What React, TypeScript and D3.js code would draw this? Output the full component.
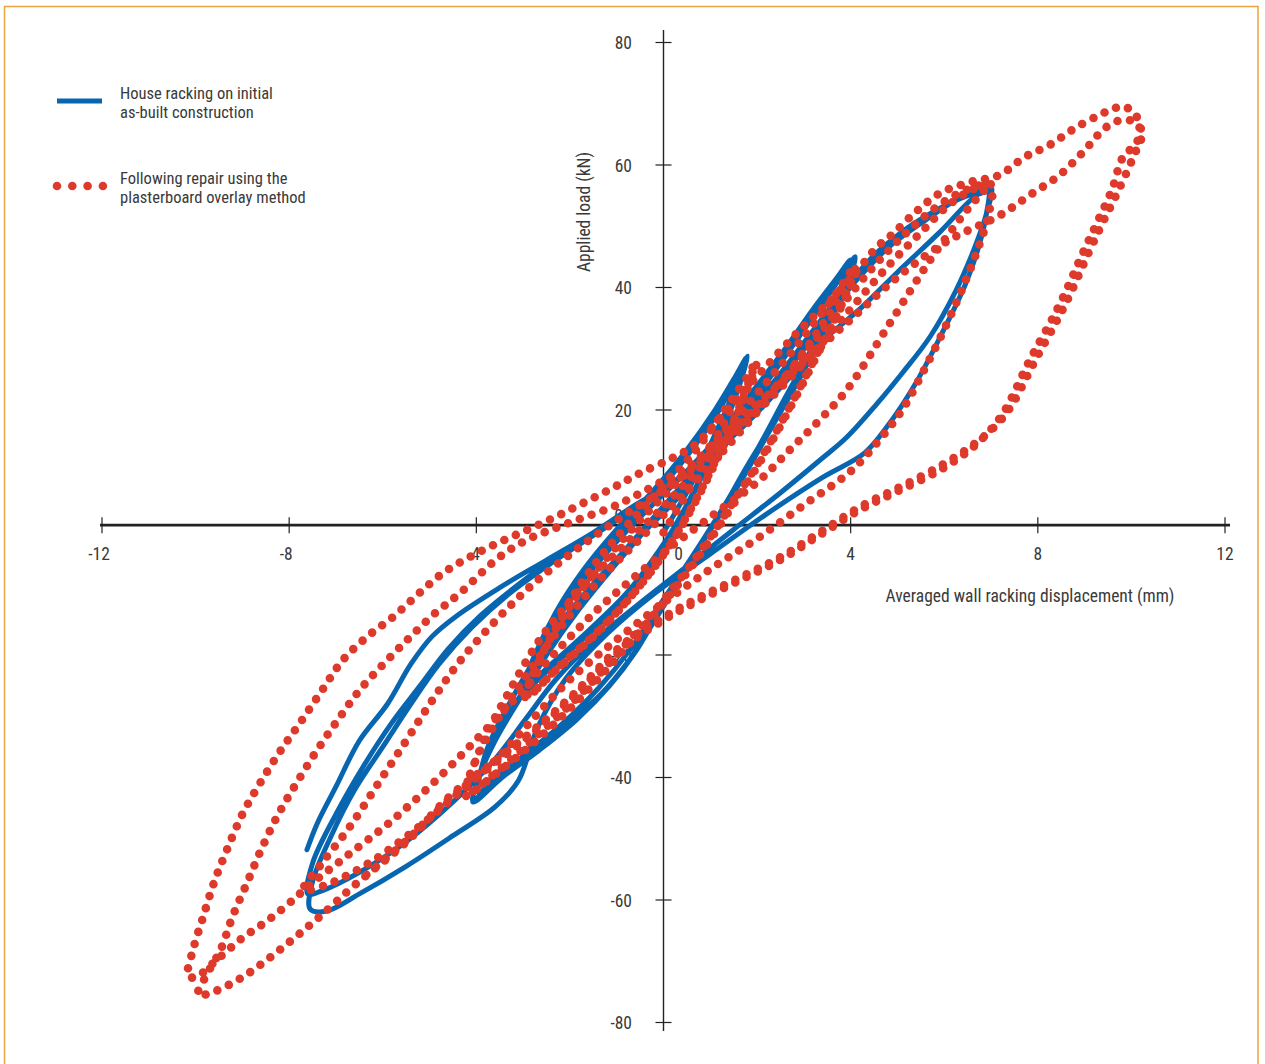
import React from "react";
import * as d3 from "d3";

// ---------- axis ticks ----------
const xTicks = [-12, -8, -4, 0, 4, 8, 12];
const yTicks = [80, 60, 40, 20, 0, -20, -40, -60, -80];

// ---------- Blue series: house racking on initial as-built construction (mm, kN) ----------
const blueSmall: [number, number][] = [
  [0, 0], [0.6, 8], [1.1, 16], [1.45, 22], [1.7, 27.5],
  [1.5, 22], [1.1, 14], [0.55, 5], [-0.1, -3], [-0.8, -10], [-1.6, -16], [-2.4, -21.5], [-3.0, -25.5],
  [-2.75, -20], [-2.3, -13], [-1.7, -6], [-1.0, 0.5], [-0.2, 7], [0.5, 13.5], [1.1, 20], [1.5, 25], [1.78, 28.6],
  [1.55, 23], [1.15, 15], [0.6, 6], [0.0, -2], [-0.7, -9.5], [-1.5, -15.5], [-2.3, -21], [-2.95, -25.8],
  [-2.7, -20.5], [-2.25, -13.5], [-1.65, -6.5], [-0.95, 0], [-0.15, 6.5], [0.55, 13], [1.15, 19.5], [1.55, 25], [1.8, 28.8],
  [1.6, 23.5], [1.2, 15.5], [0.65, 6.5], [0.05, -2], [-0.65, -9.5], [-1.45, -15.5], [-2.25, -21], [-3.0, -25.7],
];
const blueMedium: [number, number][] = [
  [-2.6, -19], [-2.0, -11], [-1.3, -4], [-0.5, 2.5], [0.3, 8.5], [1.1, 15], [1.9, 23], [2.6, 30], [3.2, 36.5], [3.7, 41.5], [4.0, 44.5],
  [3.85, 40], [3.5, 34], [3.0, 26.5], [2.4, 18.5], [1.8, 11], [1.2, 3], [0.5, -5.5], [-0.1, -13], [-0.6, -19.5], [-1.15, -25], [-1.85, -30.5], [-2.65, -35.5], [-3.45, -40], [-4.07, -44],
  [-3.95, -40], [-3.6, -34], [-3.1, -27.5], [-2.5, -20], [-1.8, -12.5], [-1.0, -5], [-0.2, 2], [0.6, 9], [1.4, 16.5], [2.2, 24.5], [2.9, 32], [3.5, 38.5], [3.95, 43.5], [4.1, 45],
  [3.9, 40], [3.45, 33], [2.9, 25], [2.3, 17], [1.7, 9], [1.05, 1], [0.4, -7], [-0.2, -14.5], [-0.75, -21], [-1.35, -26.5], [-2.1, -31.5], [-2.9, -36.5], [-3.6, -40.5], [-4.05, -43.5],
  [-3.9, -39], [-3.55, -33], [-3.05, -26.5], [-2.45, -19], [-1.75, -11.5], [-0.95, -4], [-0.15, 3], [0.65, 10], [1.45, 17.5], [2.25, 25.5], [2.95, 33], [3.55, 39.5], [3.9, 43.5],
  [3.7, 38], [3.2, 30.5], [2.6, 22], [2.0, 13.5], [1.35, 5], [0.65, -3.5], [-0.05, -11.5], [-0.7, -19], [-1.4, -25.5], [-2.2, -31.5], [-3.0, -36.5], [-3.6, -40], [-3.95, -42.5],
];
const blueLarge: [number, number][] = [
  [-3.8, -36], [-3.3, -28], [-2.6, -19], [-1.8, -11], [-0.9, -3.5], [0.1, 4], [1.0, 11.5], [1.9, 19.5], [2.8, 28], [3.6, 36], [4.3, 43], [5.0, 48.5], [5.8, 52.5], [6.5, 55], [6.93, 55.9],
  [6.9, 52], [6.75, 47], [6.45, 40.5], [5.95, 32.5], [5.4, 24.5], [4.8, 17.5], [4.3, 13], [3.4, 9], [2.2, 3], [1.0, -3.5], [-0.2, -10], [-1.2, -16.5], [-2.1, -24], [-2.7, -32], [-3.1, -40.5], [-3.6, -44.8], [-4.5, -49.5], [-5.5, -54.5], [-6.5, -59], [-7.2, -61.8], [-7.55, -61.5],
  [-7.5, -57], [-7.1, -49.5], [-6.6, -42], [-6.0, -35], [-5.4, -28], [-4.8, -21.5], [-4.1, -15.5], [-3.3, -10], [-2.4, -5], [-1.4, 0], [-0.4, 5], [0.6, 10.5], [1.5, 17], [2.4, 25], [3.2, 33], [3.9, 40], [4.6, 46], [5.4, 50.5], [6.2, 54], [6.75, 56], [7.0, 56.3],
  [6.9, 52], [6.65, 46.5], [6.25, 39.5], [5.7, 32], [5.1, 26], [4.56, 21.0], [3.91, 15.5], [3.34, 11.8], [2.5, 6.5], [1.5, 0.5], [0.5, -5.5], [-0.5, -11.5], [-1.45, -17.5], [-2.3, -24], [-2.95, -30.5], [-3.6, -37], [-4.5, -44], [-5.5, -50.5], [-6.5, -55.5], [-7.3, -58.5], [-7.6, -59],
  [-7.5, -54], [-7.0, -46], [-6.4, -38], [-5.8, -31], [-5.2, -25], [-4.6, -19], [-3.9, -13.5], [-3.1, -8.5], [-2.2, -3.5], [-1.2, 1], [-0.2, 6], [0.8, 11.5], [1.7, 18.5], [2.6, 26.5], [3.4, 34.5], [4.1, 41], [4.8, 46.5], [5.6, 51], [6.3, 54.5], [6.85, 56.5], [7.02, 56],
];
const blueTail: [number, number][] = [
  [6.7, 55.1], [5.9, 49], [5.0, 42.5], [4.2, 36.5], [3.34, 30.9], [2.6, 24.5], [1.8, 18], [1.0, 12.5], [0.2, 8], [-0.6, 4.5], [-1.5, 0], [-2.5, -4.5], [-3.5, -9], [-4.4, -13.5], [-4.95, -17], [-5.4, -21.5], [-5.9, -28], [-6.5, -34], [-7.0, -41.5], [-7.4, -47.5], [-7.62, -51.8],
];

// ---------- Red series: following repair using the plasterboard overlay method (mm, kN) ----------
const redSmall: [number, number][] = [
  [0, 0], [0.7, 9], [1.3, 18], [1.7, 24], [1.95, 27.5],
  [1.7, 22], [1.25, 14], [0.7, 5.5], [0.05, -3], [-0.7, -10.5], [-1.5, -17], [-2.3, -22.5], [-2.9, -26.5],
  [-2.6, -20], [-2.1, -12.5], [-1.5, -5.5], [-0.8, 1], [0, 7.5], [0.75, 14], [1.35, 20.5], [1.8, 25.5], [2.0, 28],
  [1.75, 22.5], [1.3, 14.5], [0.75, 6], [0.1, -2.5], [-0.65, -10], [-1.45, -16.5], [-2.25, -22], [-2.95, -27],
];
const redMedium: [number, number][] = [
  [-2.6, -20], [-2.0, -12], [-1.3, -5], [-0.5, 2], [0.4, 9], [1.3, 16.5], [2.2, 24.5], [3.0, 32], [3.6, 38], [4.1, 43.5],
  [3.85, 38], [3.35, 30], [2.75, 21], [2.1, 12], [1.4, 3.5], [0.7, -4.5], [-0.1, -12.5], [-1.0, -20.5], [-1.9, -28], [-2.8, -34.5], [-3.6, -39.5], [-4.25, -43],
  [-4.0, -37], [-3.5, -30], [-2.9, -23], [-2.2, -15.5], [-1.4, -8], [-0.5, -1], [0.4, 6], [1.3, 13.5], [2.2, 21.5], [3.0, 29.5], [3.6, 36.5], [4.15, 43.5],
  [3.9, 38.5], [3.4, 31], [2.8, 22], [2.15, 13], [1.45, 4.5], [0.75, -3.5], [-0.05, -11.5], [-0.95, -19.5], [-1.85, -27], [-2.75, -33.5], [-3.55, -39], [-4.2, -42.5],
];
const redLarge: [number, number][] = [
  [-3.9, -35], [-3.3, -26], [-2.6, -17], [-1.8, -9.5], [-0.9, -2.5], [0.1, 5], [1.0, 12.5], [2.0, 20.5], [3.0, 29], [3.8, 37], [4.5, 43.5], [5.2, 49], [5.9, 53.5], [6.5, 56], [7.0, 56.8],
  [6.95, 52], [6.75, 47], [6.45, 41], [6.05, 34], [5.6, 27], [5.1, 20], [4.6, 15], [4.0, 10], [3.0, 4.5], [2.0, -1], [1.0, -6], [0.0, -11.5], [-1.0, -17.5], [-2.0, -24], [-2.8, -30.5], [-3.5, -36.5], [-4.3, -42], [-5.3, -48.5], [-6.3, -54], [-7.2, -57.5], [-7.7, -58.4],
  [-7.3, -54], [-6.7, -48], [-6.1, -41], [-5.5, -34], [-4.95, -27.5], [-4.35, -21], [-3.6, -14.5], [-2.8, -8.5], [-1.9, -3], [-0.9, 2.5], [0.1, 7.5], [1.1, 13.5], [2.1, 20.5], [3.1, 28.5], [4.0, 36.5], [4.8, 43.5], [5.5, 49], [6.1, 53.5], [6.6, 56], [6.95, 57],
  [6.49, 52.7], [5.7, 44.5], [4.84, 34.2], [3.92, 23.3], [3.34, 18.4], [2.7, 13.5], [2.06, 8.6], [1.21, 3.7], [0.35, -1.2], [-0.5, -6.5], [-1.4, -12.5], [-2.3, -19.5], [-3.1, -26.5], [-3.9, -33], [-4.8, -40], [-5.8, -47], [-6.8, -53], [-7.6, -57.8],
  [-7.92, -60], [-8.45, -63.3], [-9.0, -66.2], [-9.55, -69.8], [-10.0, -72.6],
];
const redLargest: [number, number][] = [
  [-10.16, -72.4], [-10.05, -68], [-9.84, -62.8], [-9.6, -57], [-9.33, -51.8], [-9.0, -46], [-8.62, -40.9], [-8.2, -35.8], [-7.77, -31.1], [-7.3, -25.8], [-6.85, -20.8], [-6.3, -16.8], [-5.78, -13.8], [-5.25, -10.1], [-4.71, -6.6], [-4.14, -4.0], [-3.54, -1.7], [-2.92, 0.4], [-2.32, 2.5], [-1.72, 4.8], [-1.08, 7.3], [-0.5, 9.7], [0.2, 12.2], [0.7, 14.5], [1.3, 19.5], [2.06, 26.0], [2.92, 33.1], [3.63, 38.4], [4.2, 43.3], [4.56, 46.6], [4.88, 48.6], [5.37, 52.2], [5.91, 55.4], [6.55, 57.2], [7.19, 58.4], [7.72, 61.3], [8.26, 63.3], [8.79, 66.0], [9.33, 68.2], [9.65, 69.3], [9.86, 69.5],
  [10.07, 68.3], [10.2, 66.3], [10.1, 63.5], [9.82, 61.3], [9.58, 55.9], [9.26, 50.5], [8.96, 45.6], [8.54, 38.4], [8.26, 34.2], [7.83, 28.2], [7.3, 20.0], [6.98, 16.7], [6.55, 13.5], [5.91, 10.2], [5.05, 6.9], [4.2, 3.7], [3.34, -0.4], [2.49, -4.5], [1.63, -7.8], [0.78, -11.0], [0, -14.3], [-0.93, -19.2], [-2.0, -27.3], [-2.85, -33.1], [-3.71, -38.3], [-4.56, -43.3], [-5.52, -50.7], [-6.59, -57.5], [-7.36, -62.8], [-7.89, -66.2], [-8.43, -69.5], [-9.0, -72.6], [-9.62, -75.0], [-9.95, -75.5],
  [-9.75, -72], [-9.47, -68.2], [-9.2, -62.5], [-8.9, -57.2], [-8.6, -51.8], [-8.26, -46.4], [-7.85, -41], [-7.4, -35.5], [-6.95, -30.5], [-6.49, -25.7], [-5.95, -21.2], [-5.42, -17.1], [-4.9, -13.3], [-4.35, -9.9], [-3.54, -4.2], [-2.92, -1.2], [-2.32, 0.7], [-1.72, 2.4], [-1.08, 4.2], [-0.5, 6.4], [0.14, 9.1], [0.63, 11.3], [1.3, 16.5], [1.85, 20.0], [2.92, 27.3], [3.99, 34.7], [5.05, 42.0], [6.12, 47.8], [7.19, 51.8], [7.83, 55.1], [8.47, 58.4], [9.0, 62.4], [9.43, 66.0], [9.76, 67.3], [10.07, 67.0], [10.22, 65.0], [10.05, 61.5],
  [9.7, 55.5], [9.38, 50.5], [9.08, 45.6], [8.66, 38.4], [8.38, 34.2], [7.95, 28.2], [7.42, 20.5], [7.08, 17.3], [6.6, 14.2], [5.95, 11], [5.1, 7.6], [4.25, 4.4], [3.4, 0.3], [2.55, -3.8], [1.7, -7.1], [0.85, -10.3], [0.05, -13.6], [-0.9, -18.5], [-1.95, -26.6], [-2.8, -32.4], [-3.65, -37.6], [-4.5, -42.6], [-5.45, -50], [-6.5, -56.8],
];

const blueSeries = [...blueSmall, ...blueMedium, ...blueLarge, ...blueTail];
const redSeries = [...redSmall, ...redMedium, ...redLarge, ...redLargest];

// ---------- layout ----------
const W = 1265;
const H = 1064;
const FONT = "'Liberation Sans Narrow', 'Arial Narrow', 'Roboto Condensed', 'Liberation Sans', sans-serif";
const TEXT = "#3a3a3a";
const BLUE = "#0866b1";
const RED = "#de3a2b";
const X_AXIS_AT = 1.2; // horizontal axis line sits just above zero in the original

const xScale = d3.scaleLinear().domain([-12, 12]).range([102, 1225]);
const yScale = d3.scaleLinear().domain([-80, 80]).range([1022.5, 42.5]);

function dedupe(pts: [number, number][]) {
  return pts.filter((p, i) => i === 0 || p[0] !== pts[i - 1][0] || p[1] !== pts[i - 1][1]);
}

const lineGen = d3
  .line<[number, number]>()
  .x((d) => xScale(d[0]))
  .y((d) => yScale(d[1]))
  .curve(d3.curveCatmullRom.alpha(0.5));

export default function App() {
  const axisY = yScale(X_AXIS_AT);
  const x0 = xScale(0);
  const bluePath = lineGen(dedupe(blueSeries)) || "";
  const redPath = lineGen(dedupe(redSeries)) || "";

  return (
    <svg
      width={W}
      height={H}
      style={{ position: "absolute", left: 0, top: 0, background: "#fff" }}
      fontFamily={FONT}
    >
      <rect x={4.5} y={6.5} width={1253.5} height={1080} fill="none" stroke="#e9a53f" strokeWidth={1.5} />

      {/* tick labels (drawn beneath data) */}
      {xTicks.map((t) => (
        <text
          key={"xl" + t}
          x={t === 0 ? xScale(t) + 15 : xScale(t) - (t < 0 ? 3 : 0)}
          y={560}
          textAnchor="middle"
          fontSize={17.5}
          fill={TEXT}
        >
          {t}
        </text>
      ))}
      {yTicks.map((t) => (
        <text
          key={"yl" + t}
          x={t === 0 ? 623 : 632}
          y={t === 0 ? yScale(t) - 11 : yScale(t) + 6.5}
          textAnchor="end"
          fontSize={17.5}
          fill={TEXT}
        >
          {t}
        </text>
      ))}

      {/* axes */}
      <line x1={100} x2={1230} y1={axisY} y2={axisY} stroke="#222" strokeWidth={2.6} />
      <line x1={x0} x2={x0} y1={30} y2={1031} stroke="#222" strokeWidth={1.4} />
      {xTicks.map((t) => (
        <line key={"xt" + t} x1={xScale(t)} x2={xScale(t)} y1={axisY - 8} y2={axisY + 8} stroke="#222" strokeWidth={1.2} />
      ))}
      {yTicks
        .filter((t) => t !== 0)
        .map((t) => (
          <line key={"yt" + t} x1={x0 - 8} x2={x0 + 8} y1={yScale(t)} y2={yScale(t)} stroke="#222" strokeWidth={1.2} />
        ))}

      {/* axis titles */}
      <text x={1030} y={602} textAnchor="middle" fontSize={17.5} fill={TEXT}>
        Averaged wall racking displacement (mm)
      </text>
      <text
        transform={`translate(590,212) rotate(-90)`}
        textAnchor="middle"
        fontSize={17.5}
        fill={TEXT}
      >
        Applied load (kN)
      </text>

      {/* data */}
      <path d={bluePath} fill="none" stroke={BLUE} strokeWidth={5} strokeLinejoin="round" strokeLinecap="round" />
      <path
        d={redPath}
        fill="none"
        stroke={RED}
        strokeWidth={8.6}
        strokeLinecap="round"
        strokeDasharray="0 12.5"
      />

      {/* legend */}
      <line x1={57} x2={102} y1={101} y2={101} stroke={BLUE} strokeWidth={5} />
      <text x={120} y={99} fontSize={16.5} fill={TEXT}>House racking on initial</text>
      <text x={120} y={118} fontSize={16.5} fill={TEXT}>as-built construction</text>
      <line x1={57} x2={104} y1={186} y2={186} stroke={RED} strokeWidth={8.6} strokeLinecap="round" strokeDasharray="0 15.3" />
      <text x={120} y={184} fontSize={16.5} fill={TEXT}>Following repair using the</text>
      <text x={120} y={203} fontSize={16.5} fill={TEXT}>plasterboard overlay method</text>
    </svg>
  );
}
